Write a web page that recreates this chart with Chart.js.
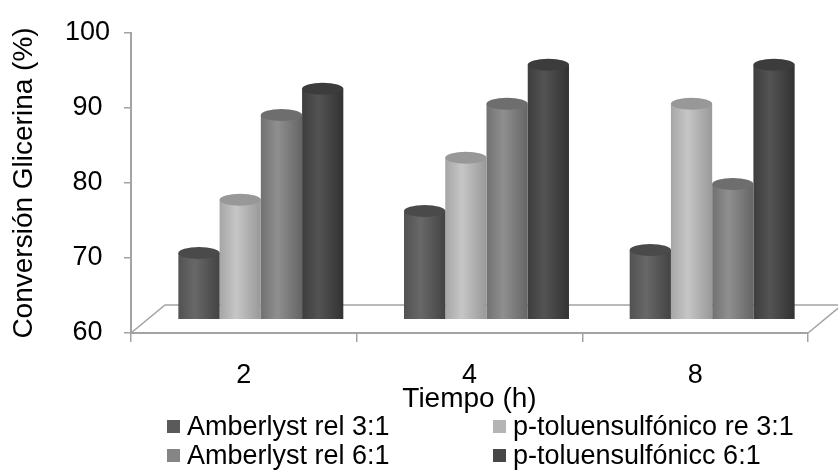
<!DOCTYPE html>
<html>
<head>
<meta charset="utf-8">
<script src="https://cdn.jsdelivr.net/npm/chart.js@4"></script>
<style>
  body { margin: 0; background: #fff; }
  #wrap { position: relative; width: 838px; height: 473px; font-family: "Liberation Sans", Arial, sans-serif; }
  #legend {
    position: absolute; left: 167px; top: 412px;
    display: grid; grid-template-columns: 326px auto; grid-auto-rows: 29px;
    font-size: 27px; color: #000;
  }
  #legend div { display: flex; align-items: center; white-space: nowrap; }
  #legend span { display: inline-block; width: 13px; height: 13px; margin-right: 7px; }
</style>
</head>
<body>
<div id="wrap">
  <canvas id="chart"></canvas>
  <div id="legend"></div>
</div>
<script>
const categories = ['2', '4', '8'];
const seriesNames = ['Amberlyst rel 3:1', 'p-toluensulfónico re 3:1', 'Amberlyst rel 6:1', 'p-toluensulfónicc 6:1'];
const amberlyst31 = [68.8, 74.4, 69.2];
const toluen31 = [75.9, 81.5, 88.7];
const amberlyst61 = [87.2, 88.7, 78.0];
const toluen61 = [90.7, 93.9, 93.9];

// cylinder shading: left, highlight, right, top cap, legend square
const shades = [
  ['#525252', '#686868', '#434343', '#4a4a4a', '#5a5a5a'],
  ['#a6a6a6', '#c6c6c6', '#999999', '#989898', '#b4b4b4'],
  ['#717171', '#8f8f8f', '#656565', '#6e6e6e', '#858585'],
  ['#3e3e3e', '#535353', '#323232', '#3c3c3c', '#474747']
];

const DX = 17, DY = -14, RY = 6;

const cylinders = {
  id: 'cylinders',
  beforeDatasetsDraw(chart) {
    const ctx = chart.ctx;
    const a = chart.chartArea;
    // floor outline
    ctx.save();
    ctx.strokeStyle = '#a3a3a3';
    ctx.lineWidth = 1.5;
    ctx.beginPath();
    ctx.moveTo(a.left, a.bottom);
    ctx.lineTo(a.left + 2 * DX, a.bottom + 2 * DY);
    ctx.lineTo(a.right + 2 * DX, a.bottom + 2 * DY);
    ctx.lineTo(a.right, a.bottom);
    ctx.stroke();
    ctx.restore();

    ctx.save();
    ctx.translate(DX, DY);
    chart.data.datasets.forEach((ds, i) => {
      const s = shades[i];
      chart.getDatasetMeta(i).data.forEach(bar => {
        const g = ctx.createLinearGradient(bar.x - bar.width / 2, 0, bar.x + bar.width / 2, 0);
        g.addColorStop(0, s[0]);
        g.addColorStop(0.4, s[1]);
        g.addColorStop(1, s[2]);
        bar.options.backgroundColor = g;
      });
    });
  },
  afterDatasetsDraw(chart) {
    const ctx = chart.ctx;
    chart.data.datasets.forEach((ds, i) => {
      const s = shades[i];
      chart.getDatasetMeta(i).data.forEach(bar => {
        const rx = bar.width / 2;
        ctx.fillStyle = bar.options.backgroundColor;
        ctx.beginPath();
        ctx.ellipse(bar.x, bar.base, rx, RY, 0, 0, Math.PI);
        ctx.fill();
        ctx.fillStyle = s[3];
        ctx.beginPath();
        ctx.ellipse(bar.x, bar.y, rx, RY, 0, 0, Math.PI * 2);
        ctx.fill();
      });
    });
    ctx.restore();
  }
};

const values = [amberlyst31, toluen31, amberlyst61, toluen61];

new Chart(document.getElementById('chart'), {
  type: 'bar',
  data: {
    labels: categories,
    datasets: seriesNames.map((name, i) => ({
      label: name,
      data: values[i],
      backgroundColor: () => shades[i][1],
      borderWidth: 0,
      categoryPercentage: 0.731,
      barPercentage: 1.0
    }))
  },
  options: {
    responsive: true,
    maintainAspectRatio: false,
    animation: false,
    layout: { padding: { top: 33, right: 30, left: 0, bottom: 0 } },
    plugins: { legend: { display: false }, tooltip: { enabled: false } },
    scales: {
      x: {
        afterFit: s => { s.height = 140; },
        grid: { offset: true, drawOnChartArea: false, drawTicks: true, tickLength: 9, color: '#a3a3a3', lineWidth: 1.5 },
        border: { color: '#a3a3a3', width: 2 },
        ticks: { color: '#000', padding: 17, font: { family: '"Liberation Sans", Arial', size: 27 } },
        title: {
          display: true, text: 'Tiempo (h)', color: '#000',
          font: { family: '"Liberation Sans", Arial', size: 28 },
          padding: { top: 0, bottom: 57 }
        }
      },
      y: {
        min: 60, max: 100,
        afterFit: s => { s.width = 131; },
        grid: { drawOnChartArea: false, drawTicks: true, tickLength: 7, color: '#a3a3a3', lineWidth: 1.5 },
        border: { color: '#a3a3a3', width: 2 },
        ticks: { stepSize: 10, color: '#000', padding: 14, crossAlign: 'center', font: { family: '"Liberation Sans", Arial', size: 27 } },
        title: {
          display: true, text: 'Conversión Glicerina (%)', color: '#000',
          font: { family: '"Liberation Sans", Arial', size: 28 },
          padding: { top: 7, bottom: 0 }
        }
      }
    }
  },
  plugins: [cylinders]
});

const legend = document.getElementById('legend');
seriesNames.forEach((name, i) => {
  const item = document.createElement('div');
  item.innerHTML = `<span style="background:${shades[i][4]}"></span>${name}`;
  legend.appendChild(item);
});
</script>
</body>
</html>
